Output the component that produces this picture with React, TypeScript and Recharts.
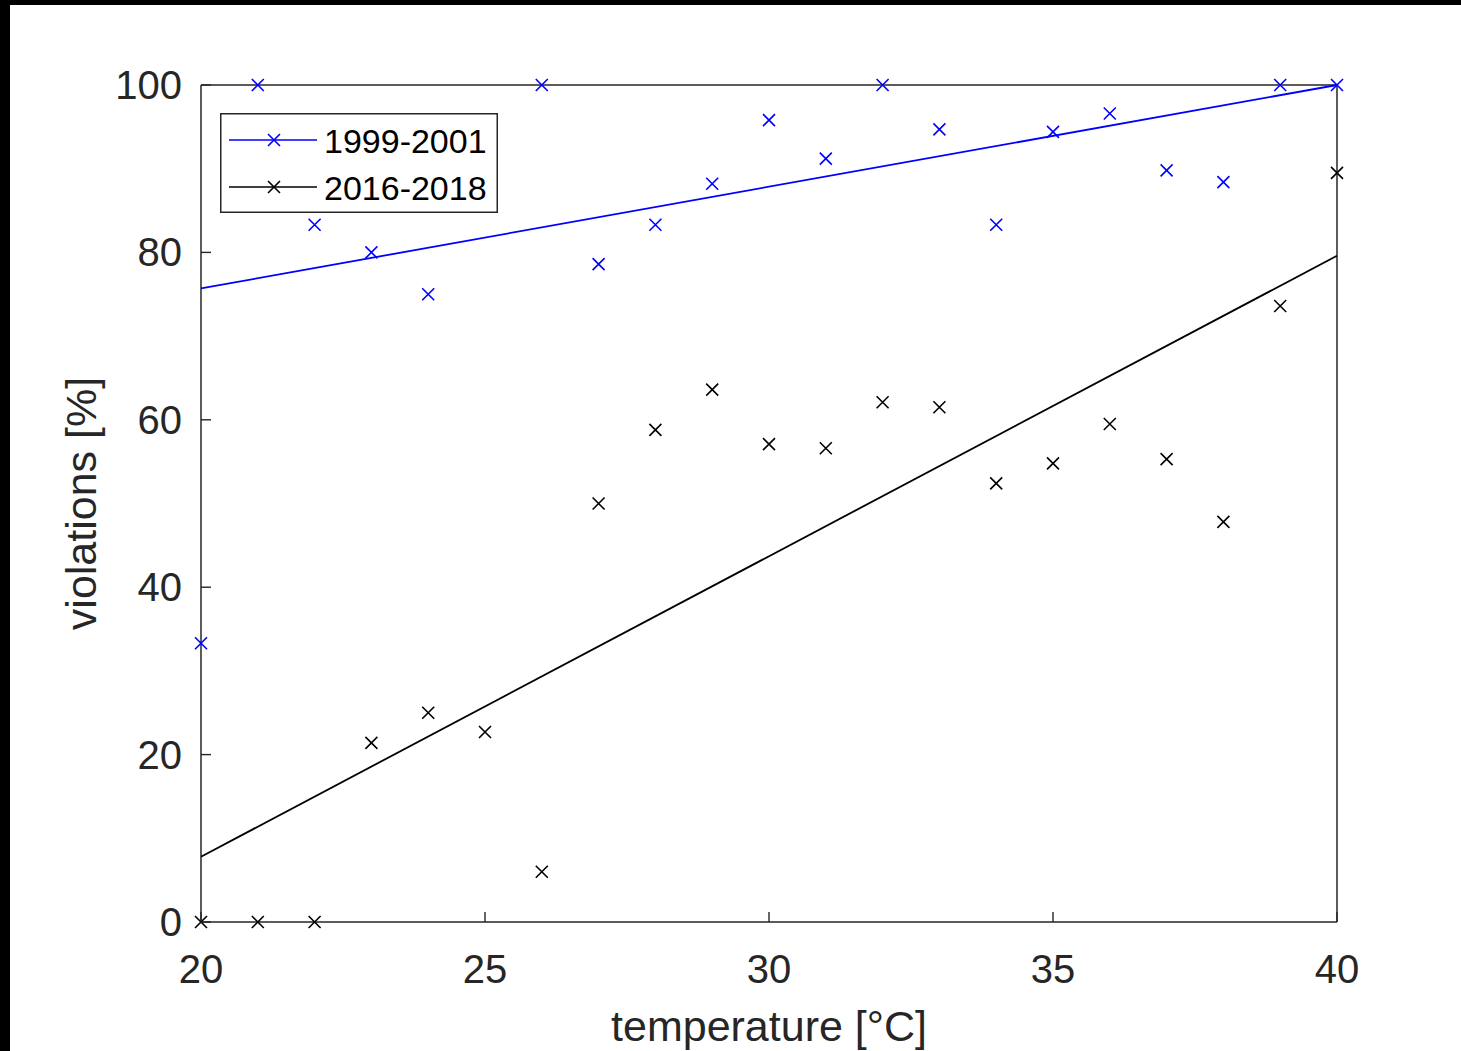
import { ComposedChart, Label, Legend, Scatter, XAxis, YAxis } from 'recharts';

// daily max temperature bins [°C]
const temperatures = [20, 21, 22, 23, 24, 25, 26, 27, 28, 29, 30, 31, 32, 33, 34, 35, 36, 37, 38, 39, 40];

// share of days with violations per temperature bin [%] (null = no days in bin)
const violations1999 = [33.3, 100, 83.3, 80, 75, null, 100, 78.6, 83.3, 88.2, 95.8, 91.2, 100, 94.7, 83.3, 94.4, 96.6, 89.8, 88.4, 100, 100];
const violations2016 = [0, 0, 0, 21.4, 25, 22.7, 6, 50, 58.8, 63.6, 57.1, 56.6, 62.1, 61.5, 52.4, 54.8, 59.5, 55.3, 47.8, 73.6, 89.5];

// linear fits, evaluated at the ends of the range
const fitEnds = [20, 40];
const fit1999 = [75.7, 100];
const fit2016 = [7.8, 79.6];

const xTicks = [20, 25, 30, 35, 40];
const yTicks = [0, 20, 40, 60, 80, 100];

const seriesNames = ['1999-2001', '2016-2018'];
const seriesColors = ['#0000ff', '#000000'];

const FONT = '"Liberation Sans", Arial, Helvetica, sans-serif';
const AXIS = '#262626';
const TICK_LEN = 10;

function toPoints(xs: number[], ys: (number | null)[]) {
  return xs
    .map((x, i) => ({ x, y: ys[i] }))
    .filter((p) => p.y !== null);
}

function Cross({ cx, cy, stroke, r = 6 }: { cx: number; cy: number; stroke: string; r?: number }) {
  return (
    <path
      d={`M${cx - r},${cy - r}L${cx + r},${cy + r}M${cx - r},${cy + r}L${cx + r},${cy - r}`}
      stroke={stroke}
      strokeWidth={1.6}
      fill="none"
    />
  );
}

const crossShape = (color: string) => (props: any) => <Cross cx={props.cx} cy={props.cy} stroke={color} />;
const noShape = () => <g />;

function BottomTick({ x, y, payload }: any) {
  return (
    <g>
      <line x1={x} y1={y} x2={x} y2={y - TICK_LEN} stroke={AXIS} strokeWidth={1.4} />
      <text x={x} y={y + 61} textAnchor="middle" fill={AXIS} fontSize={40} fontFamily={FONT}>
        {payload.value}
      </text>
    </g>
  );
}

function LeftTick({ x, y, payload }: any) {
  return (
    <g>
      <line x1={x} y1={y} x2={x + TICK_LEN} y2={y} stroke={AXIS} strokeWidth={1.4} />
      <text x={x - 19} y={y + 14} textAnchor="end" fill={AXIS} fontSize={40} fontFamily={FONT}>
        {payload.value}
      </text>
    </g>
  );
}

function TopTick({ x, y }: any) {
  return <line x1={x} y1={y} x2={x} y2={y + TICK_LEN} stroke={AXIS} strokeWidth={1.4} />;
}

function RightTick({ x, y }: any) {
  return <line x1={x} y1={y} x2={x - TICK_LEN} y2={y} stroke={AXIS} strokeWidth={1.4} />;
}

function LegendBox() {
  return (
    <svg width={278} height={100} style={{ display: 'block' }}>
      <rect x={0.75} y={0.75} width={276.5} height={98.5} fill="#fff" stroke={AXIS} strokeWidth={1.5} />
      {seriesNames.map((name, i) => {
        const cy = 27 + i * 47;
        return (
          <g key={name}>
            <line x1={9} y1={cy} x2={97} y2={cy} stroke={seriesColors[i]} strokeWidth={1.6} />
            <Cross cx={54} cy={cy} stroke={seriesColors[i]} />
            <text x={104} y={cy + 13} fontSize={34} fontFamily={FONT} fill="#000">
              {name}
            </text>
          </g>
        );
      })}
    </svg>
  );
}

export default function App() {
  const scatter1999 = toPoints(temperatures, violations1999);
  const scatter2016 = toPoints(temperatures, violations2016);
  const line1999 = toPoints(fitEnds, fit1999);
  const line2016 = toPoints(fitEnds, fit2016);

  return (
    <div style={{ position: 'absolute', left: 0, top: 0, width: 1461, height: 1051, background: '#000', overflow: 'hidden' }}>
      <div style={{ position: 'absolute', left: 10, top: 5, right: 0, bottom: 0, background: '#fff' }} />
      <div style={{ position: 'absolute', left: 0, top: 0 }}>
        <ComposedChart width={1461} height={1051} margin={{ top: 84, right: 123, bottom: 0, left: 0 }}>
          <XAxis
            xAxisId="bottom"
            type="number"
            dataKey="x"
            domain={[20, 40]}
            ticks={xTicks}
            height={129}
            tickSize={0}
            tickMargin={0}
            tickLine={false}
            axisLine={{ stroke: AXIS, strokeWidth: 1.5 }}
            tick={BottomTick}
          >
            <Label
              content={({ viewBox }: any) => (
                <text
                  x={viewBox.x + viewBox.width / 2}
                  y={viewBox.y + viewBox.height - 10}
                  textAnchor="middle"
                  fill={AXIS}
                  fontSize={43}
                  fontFamily={FONT}
                >
                  temperature [°C]
                </text>
              )}
            />
          </XAxis>
          <XAxis
            xAxisId="top"
            orientation="top"
            type="number"
            dataKey="x"
            domain={[20, 40]}
            ticks={xTicks}
            height={1}
            tickSize={0}
            tickMargin={0}
            tickLine={false}
            axisLine={{ stroke: AXIS, strokeWidth: 1.5 }}
            tick={TopTick}
          />
          <YAxis
            yAxisId="left"
            type="number"
            dataKey="y"
            domain={[0, 100]}
            ticks={yTicks}
            width={201}
            tickSize={0}
            tickMargin={0}
            tickLine={false}
            axisLine={{ stroke: AXIS, strokeWidth: 1.5 }}
            tick={LeftTick}
          >
            <Label
              content={({ viewBox }: any) => {
                const cx = 96;
                const cy = viewBox.y + viewBox.height / 2;
                return (
                  <text
                    x={cx}
                    y={cy}
                    transform={`rotate(-90 ${cx} ${cy})`}
                    textAnchor="middle"
                    fill={AXIS}
                    fontSize={43}
                    fontFamily={FONT}
                  >
                    violations [%]
                  </text>
                );
              }}
            />
          </YAxis>
          <YAxis
            yAxisId="right"
            orientation="right"
            type="number"
            dataKey="y"
            domain={[0, 100]}
            ticks={yTicks}
            width={1}
            tickSize={0}
            tickMargin={0}
            tickLine={false}
            axisLine={{ stroke: AXIS, strokeWidth: 1.5 }}
            tick={RightTick}
          />

          <Scatter
            name={seriesNames[0]}
            data={scatter1999}
            xAxisId="bottom"
            yAxisId="left"
            shape={crossShape(seriesColors[0])}
            isAnimationActive={false}
          />
          <Scatter
            name={seriesNames[1]}
            data={scatter2016}
            xAxisId="bottom"
            yAxisId="left"
            shape={crossShape(seriesColors[1])}
            isAnimationActive={false}
          />
          <Scatter
            data={line1999}
            xAxisId="bottom"
            yAxisId="left"
            line={{ stroke: seriesColors[0], strokeWidth: 1.8 }}
            shape={noShape}
            legendType="none"
            isAnimationActive={false}
          />
          <Scatter
            data={line2016}
            xAxisId="bottom"
            yAxisId="left"
            line={{ stroke: seriesColors[1], strokeWidth: 1.8 }}
            shape={noShape}
            legendType="none"
            isAnimationActive={false}
          />

          <Legend
            layout="vertical"
            align="center"
            verticalAlign="middle"
            content={() => <LegendBox />}
            wrapperStyle={{ left: 220, top: 113, width: 278, height: 100 }}
          />
        </ComposedChart>
      </div>
    </div>
  );
}
